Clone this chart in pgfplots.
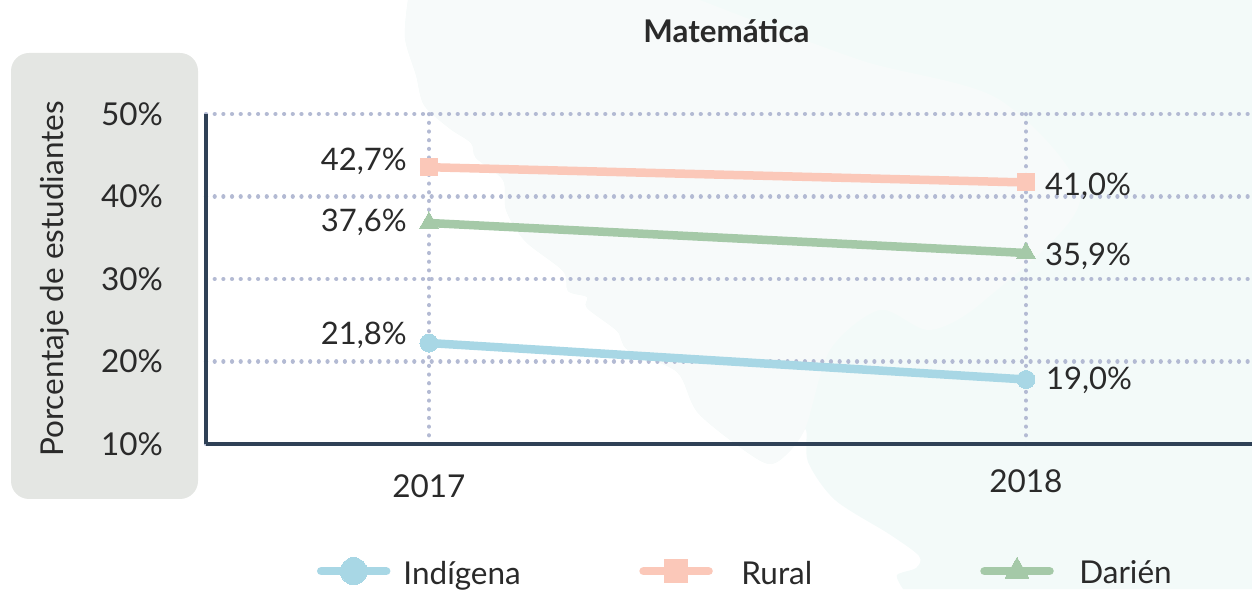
\documentclass[border=0pt]{standalone}
\usepackage{pgfplots}
\pgfplotsset{compat=1.18}
\usepackage{fontspec}
\setmainfont{Lato}
\definecolor{cblue}{HTML}{A8D7E5}
\definecolor{crural}{HTML}{FBC8B9}
\definecolor{cgreen}{HTML}{A5C9A8}
\definecolor{ctext}{HTML}{2A2A2A}
\definecolor{cgrid}{HTML}{B3BAD3}
\definecolor{caxis}{HTML}{2F4156}
\definecolor{cpanel}{HTML}{E4E6E3}
\definecolor{cmap}{HTML}{F3FAF9}
\definecolor{cmapb}{HTML}{F7FAFA}
\pgfplotsset{limg/.style={legend image code/.code={\draw[##1,mark=none,line cap=round] (0,0)--(65pt,0);\draw[##1,only marks,mark size=#1] plot coordinates {(32.5pt,0)};}}}
\begin{document}
\begin{tikzpicture}[x=1pt,y=1pt]
\useasboundingbox (0,0) rectangle (1252,589);
\clip (0,0) rectangle (1252,589);
\begin{scope}[yshift=589pt,y=-1pt]
\fill[cmap] plot[smooth,tension=0.5] coordinates {(408,0)(405,38)(416,75)(424,105)(449,128)(471,143)(476,158)(503,180)(506,210)(525,241)(563,271)(568,291)(587,297)(587,308)(617,331)(628,350)(677,372)(699,414)(759,460)(780,460)(805,429)(808,462)(835,500)(889,534)(919,556)(916,568)(897,575)(903,589)} -- (1252,589) -- (1252,0) -- cycle;
\fill[cmapb] plot[smooth,tension=0.5] coordinates {(408,0)(405,38)(416,75)(424,105)(449,128)(471,143)(476,158)(503,180)(506,210)(525,241)(563,271)(568,291)(587,297)(587,308)(617,331)(628,350)(677,372)(699,414)(759,460)(780,460)(805,429)(830,350)(880,310)(930,330)(985,300)(1080,200)(1000,100)(860,60)(700,0)} -- cycle;
\fill[cpanel,rounded corners=18pt] (11,53) rectangle (198,499);
\end{scope}
\begin{axis}[
  at={(206pt,145pt)}, anchor=south west,
  scale only axis, width=1046pt, height=330pt,
  xmin=-0.3735, xmax=1.3786, ymin=10, ymax=50,
  clip=false,
  axis x line=bottom, axis y line=left,
  axis line style={-, color=caxis, line width=4pt},
  major tick length=0pt,
  xtick={0,1}, xticklabels={\raisebox{-5pt}{2017},2018},
  ytick={10,20,30,40,50}, yticklabels={10\%,20\%,30\%,40\%,50\%},
  tick label style={font=\fontsize{31.5}{36}\selectfont, text=ctext, inner sep=0pt},
  xticklabel style={anchor=base, yshift=-48.7pt},
  yticklabel style={anchor=east, xshift=-43pt},
  grid=major,
  grid style={color=cgrid, line width=4.2pt, line cap=round, dash pattern=on 0.01pt off 8.67pt},
  ylabel={Porcentaje de estudiantes},
  every axis y label/.style={at={(axis description cs:-0.1445,0.5)},rotate=90,anchor=center,font=\fontsize{31.5}{36}\selectfont,text=ctext},
  title={\textbf{Matemática}},
  every axis title/.style={at={(axis description cs:0.4976,1.2515)},anchor=center,font=\fontsize{31.3}{36}\selectfont,text=ctext},
  legend columns=3,
  legend style={at={(axis description cs:0.1059,-0.385)},anchor=west,draw=none,fill=none,inner sep=0pt,
    font=\fontsize{31.5}{36}\selectfont,text=ctext,
    nodes={inner sep=0pt},
    /tikz/column 1/.style={column sep=13pt},
    /tikz/column 2/.style={column sep=118.5pt},
    /tikz/column 3/.style={column sep=28.5pt},
    /tikz/column 4/.style={column sep=168pt},
    /tikz/column 5/.style={column sep=25.5pt}},
  legend cell align=left,
  every axis plot/.append style={line width=8.5pt},
]
\addplot[color=cblue, mark=*, mark size=9pt, mark options={line width=0pt,fill=cblue}, limg=13.5pt]
  coordinates {(0,22.24)(1,17.82)};
\addlegendentry{\raisebox{-4pt}{Indígena}}
\addplot[color=crural, mark=square*, mark size=8.5pt, mark options={line width=0pt,fill=crural}, limg=11.5pt]
  coordinates {(0,43.55)(1,41.70)};
\addlegendentry{\raisebox{-4pt}{Rural}}
\addplot[color=cgreen, mark=triangle*, mark size=11pt, mark options={line width=0pt,fill=cgreen}, limg=13.8pt]
  coordinates {(0,36.79)(1,33.15)};
\addlegendentry{\raisebox{-4pt}{Darién}}
\begin{scope}[every node/.style={font=\fontsize{31}{36}\selectfont,text=ctext,inner sep=0pt}]
\node[anchor=base east] at (axis cs:-0.0370,43.21) {42,7\%};
\node[anchor=base east] at (axis cs:-0.0370,35.70) {37,6\%};
\node[anchor=base east] at (axis cs:-0.0370,22.00) {21,8\%};
\node[anchor=base west] at (axis cs:1.0318,40.18) {41,0\%};
\node[anchor=base west] at (axis cs:1.0318,31.65) {35,9\%};
\node[anchor=base west] at (axis cs:1.0335,16.60) {19,0\%};
\end{scope}
\end{axis}
\end{tikzpicture}
\end{document}
